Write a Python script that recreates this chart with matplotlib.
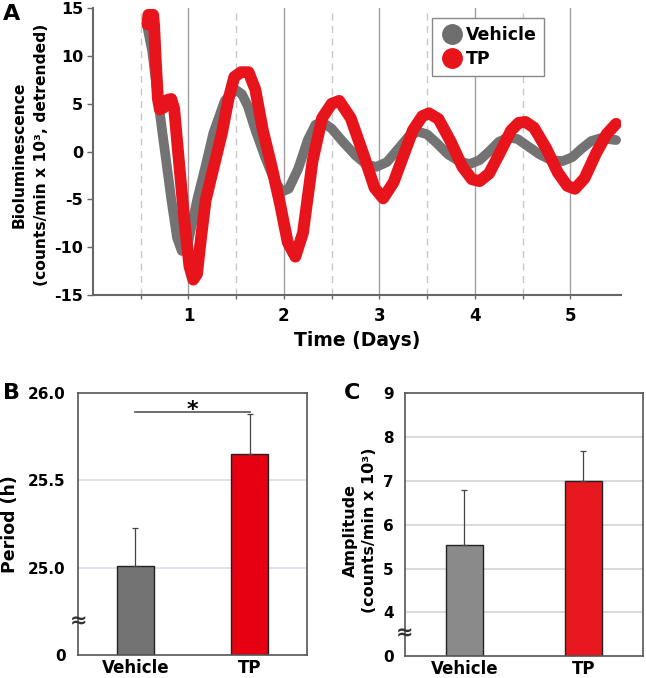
import numpy as np
import matplotlib.pyplot as plt
from matplotlib.lines import Line2D

plt.rcParams['font.family'] = 'DejaVu Sans'
plt.rcParams['font.weight'] = 'bold'

# panel A: detrended bioluminescence (days, counts/min x 10^3)
vehicle_days = [0.56, 0.62, 0.70, 0.76, 0.82, 0.88, 0.93, 0.99, 1.09, 1.18, 1.26,
                1.38, 1.49, 1.56, 1.62, 1.70, 1.80, 1.90, 1.98, 2.05, 2.15, 2.25,
                2.33, 2.40, 2.50, 2.62, 2.75, 2.87, 2.97, 3.08, 3.20, 3.30, 3.40,
                3.50, 3.60, 3.72, 3.85, 3.95, 4.05, 4.15, 4.25, 4.35, 4.45, 4.55,
                4.68, 4.80, 4.92, 5.02, 5.12, 5.22, 5.32, 5.40, 5.48]
vehicle_lum = [13.5, 10.5, 4.0, -0.5, -5.0, -9.0, -10.4, -9.8, -5.1, -1.5, 1.9,
               5.3, 6.5, 6.0, 4.8, 2.3, -0.5, -3.0, -4.2, -3.9, -1.8, 1.2,
               2.8, 3.1, 2.4, 1.0, -0.4, -1.4, -1.6, -1.1, 0.3, 1.5, 2.1,
               1.8, 0.9, -0.3, -1.1, -1.3, -0.9, 0.0, 1.0, 1.5, 1.3, 0.6,
               -0.3, -0.9, -1.0, -0.6, 0.3, 1.1, 1.4, 1.3, 1.2]
tp_days = [0.57, 0.58, 0.63, 0.64, 0.66, 0.68, 0.70, 0.74, 0.78, 0.82, 0.85,
           0.90, 0.96, 1.01, 1.05, 1.09, 1.12, 1.18, 1.26, 1.35, 1.42, 1.48,
           1.55, 1.63, 1.70, 1.78, 1.87, 1.96, 2.04, 2.12, 2.20, 2.30, 2.40,
           2.50, 2.58, 2.70, 2.83, 2.95, 3.04, 3.15, 3.25, 3.35, 3.45, 3.52,
           3.62, 3.75, 3.87, 3.97, 4.05, 4.15, 4.27, 4.38, 4.46, 4.53, 4.62,
           4.75, 4.87, 4.97, 5.05, 5.15, 5.27, 5.38, 5.48]
tp_lum = [13.3, 14.3, 14.3, 13.2, 9.0, 5.5, 4.4, 4.6, 5.4, 5.5, 4.5,
          -1.0, -7.5, -12.0, -13.4, -12.8, -10.0, -5.1, -1.8, 1.9, 5.5, 7.8,
          8.3, 8.3, 6.5, 2.2, -1.5, -5.5, -9.5, -11.0, -8.5, -1.0, 3.5,
          5.0, 5.3, 3.5, -0.2, -3.8, -4.9, -3.2, -0.5, 2.2, 3.7, 4.0,
          3.4, 1.0, -1.6, -2.9, -3.1, -2.3, 0.0, 2.2, 3.0, 3.1, 2.5,
          0.3, -2.2, -3.6, -3.9, -2.8, -0.2, 1.8, 2.9]

# panels B and C
groups = ["Vehicle", "TP"]
period_mean = [25.01, 25.65]
period_err = [0.22, 0.23]
amp_mean = [5.53, 7.0]
amp_err = [1.27, 0.68]

red = "#E8141C"

fig = plt.figure(figsize=(6.46, 6.78), dpi=100)

# ---------------- A ----------------
ax = fig.add_axes([0.144, 0.565, 0.817, 0.423])
for d in np.arange(1, 6):
    ax.axvline(d, color="#a0a0a0", lw=1, zorder=0)
for d in np.arange(0.5, 5.0, 1.0):
    ax.axvline(d, color="#c8c8c8", lw=1, ls=(0, (5, 4)), zorder=0)
ax.plot(vehicle_days, vehicle_lum, color="#737373", lw=7,
        solid_capstyle="round", solid_joinstyle="round", zorder=2)
ax.plot(tp_days, tp_lum, color=red, lw=8.5,
        solid_capstyle="round", solid_joinstyle="round", zorder=3)
ax.set_xlim(0, 5.53)
ax.set_ylim(-15, 15)
ax.set_xticks([1, 2, 3, 4, 5])
ax.set_xticks(np.arange(0.5, 5.5, 1.0), minor=True)
ax.set_xticklabels(["1", "2", "3", "4", "5"], fontsize=12, fontweight="bold")
yt = [15, 10, 5, 0, -5, -10, -15]
ax.set_yticks(yt)
ax.set_yticklabels([str(v) for v in yt], fontsize=11.5, fontweight="bold")
ax.tick_params(axis="x", length=3, width=1, color="#666666", pad=6)
ax.tick_params(axis="x", which="minor", length=3, width=1, color="#666666")
ax.tick_params(axis="y", length=4, width=1, color="#666666", pad=3)
for s in ["top", "right"]:
    ax.spines[s].set_visible(False)
for s in ["left", "bottom"]:
    ax.spines[s].set_color("#666666")
    ax.spines[s].set_linewidth(1.5)
ax.set_xlabel("Time (Days)", fontsize=13.5, fontweight="bold", labelpad=4)
fig.text(0.047, 0.772, "Bioluminescence\n(counts/min x 10³, detrended)",
         rotation=90, ha="center", va="center", fontsize=11.2,
         fontweight="bold", linespacing=1.6)
handles = [Line2D([], [], ls="none", marker="o", ms=14, color="#6e6e6e"),
           Line2D([], [], ls="none", marker="o", ms=14, color=red)]
leg = ax.legend(handles, ["Vehicle", "TP"], loc="upper left",
                bbox_to_anchor=(0.625, 0.995), fancybox=False, framealpha=1,
                edgecolor="#888888", prop={"weight": "bold", "size": 12.5},
                handletextpad=0.1, handlelength=1.4, borderpad=0.45,
                labelspacing=0.35)
fig.text(0.004, 0.98, "A", fontsize=16, fontweight="bold", va="center")


# ---------------- B ----------------
def period_fwd(v):
    v = np.asarray(v, dtype=float)
    return np.where(v < 25, v / 25, 1 + (v - 25) / 0.5)


def period_inv(p):
    p = np.asarray(p, dtype=float)
    return np.where(p < 1, p * 25, 25 + (p - 1) * 0.5)


x = np.arange(len(groups))
axb = fig.add_axes([0.121, 0.034, 0.354, 0.386])
axb.set_yscale("function", functions=(period_fwd, period_inv))
axb.set_ylim(0, 26.0)
axb.set_xlim(-0.5, 1.5)
for v in [25.0, 25.5]:
    axb.axhline(v, color="#dcdfe6", lw=1.2, zorder=0)
axb.bar(x, period_mean, width=0.32, color=["#737373", "#E60012"],
        edgecolor="#222222", lw=1, zorder=2)
axb.errorbar(x, period_mean, yerr=[[0, 0], period_err], fmt="none",
             ecolor="#444444", elinewidth=0.9, capsize=2, capthick=0.9, zorder=3)
axb.plot([x[0], x[1]], [25.89, 25.89], color="#555555", lw=1.2, zorder=3)
axb.text(0.5, 25.87, "*", ha="center", va="baseline", fontsize=16,
         fontweight="bold")
axb.set_yticks([0, 25.0, 25.5, 26.0])
axb.set_yticklabels(["0", "25.0", "25.5", "26.0"], fontsize=11,
                    fontweight="bold")
axb.set_xticks(x)
axb.set_xticklabels(groups, fontsize=12, fontweight="bold")
axb.tick_params(axis="y", length=0, pad=9)
axb.tick_params(axis="x", length=0, pad=3)
for s in axb.spines.values():
    s.set_color("#555555")
    s.set_linewidth(1.2)
axb.text(0, 0.38 / 3, "≈", transform=axb.transAxes, ha="center",
         va="center", fontsize=15, color="#333333")
fig.text(0.016, 0.227, "Period (h)", rotation=90, ha="center", va="center",
         fontsize=12.5, fontweight="bold")
fig.text(0.004, 0.42, "B", fontsize=16, fontweight="bold", va="center")


# ---------------- C ----------------
def amp_fwd(v):
    v = np.asarray(v, dtype=float)
    return np.where(v < 4, v / 4, v - 3)


def amp_inv(p):
    p = np.asarray(p, dtype=float)
    return np.where(p < 1, p * 4, p + 3)


axc = fig.add_axes([0.627, 0.032, 0.368, 0.388])
axc.set_yscale("function", functions=(amp_fwd, amp_inv))
axc.set_ylim(0, 9)
axc.set_xlim(-0.5, 1.5)
for v in [4, 5, 6, 7, 8]:
    axc.axhline(v, color="#d4d4d4", lw=1.2, zorder=0)
axc.bar(x, amp_mean, width=0.31, color=["#8a8a8a", "#E8191E"],
        edgecolor="#222222", lw=1, zorder=2)
axc.errorbar(x, amp_mean, yerr=[[0, 0], amp_err], fmt="none",
             ecolor="#444444", elinewidth=0.9, capsize=2, capthick=0.9, zorder=3)
ct = [0, 4, 5, 6, 7, 8, 9]
axc.set_yticks(ct)
axc.set_yticklabels([str(v) for v in ct], fontsize=11, fontweight="bold")
axc.set_xticks(x)
axc.set_xticklabels(groups, fontsize=12, fontweight="bold")
axc.tick_params(axis="y", length=0, pad=8)
axc.tick_params(axis="x", length=0, pad=3)
for s in axc.spines.values():
    s.set_color("#555555")
    s.set_linewidth(1.2)
axc.text(0, 0.52 / 6, "≈", transform=axc.transAxes, ha="center",
         va="center", fontsize=15, color="#333333")
fig.text(0.557, 0.218, "Amplitude\n(counts/min x 10³)", rotation=90,
         ha="center", va="center", fontsize=11.5, fontweight="bold",
         linespacing=1.4)
fig.text(0.533, 0.42, "C", fontsize=16, fontweight="bold", va="center")

fig.savefig("out.png", dpi=100)
